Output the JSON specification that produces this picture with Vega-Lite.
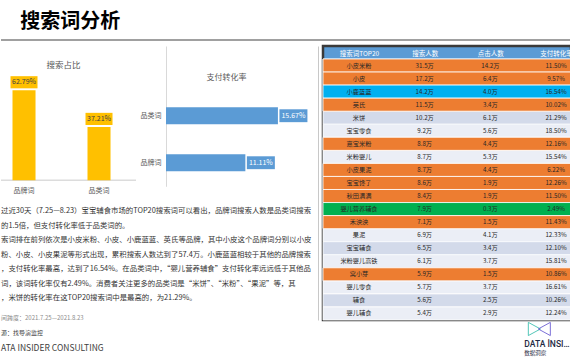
{
  "$schema": "https://vega.github.io/schema/vega-lite/v6.json",
  "padding": {"top": 12, "left": 0, "right": 0, "bottom": 0},
  "background": "white",
  "title": {"text": "搜索词分析", "anchor": "start", "dx": 20, "fontSize": 20, "fontWeight": "bold", "color": "#000000", "offset": 0, "font": "Noto Sans CJK SC"},
  "spacing": 3,
  "vconcat": [
    {
      "width": 570,
      "height": 8,
      "data": {"values": [{}]},
      "mark": {"type": "rule", "color": "#808080", "strokeWidth": 1.5},
      "encoding": {"y": {"datum": 0, "type": "quantitative", "scale": {"domain": [0, 1]}, "axis": null}}
    },
    {
      "spacing": 0,
      "hconcat": [
        {
          "spacing": 0,
          "vconcat": [
            {
              "bounds": "flush",
              "spacing": 30,
              "hconcat": [
                {
                  "width": 135,
                  "height": 157.25,
                  "title": {"text": "搜索占比", "offset": -23.25, "fontSize": 8.5, "fontWeight": "normal", "color": "#595959", "dx": -5},
                  "data": {"values": [
                    {"词类": "品牌词", "搜索占比": 0.6279},
                    {"词类": "品类词", "搜索占比": 0.3721}
                  ]},
                  "encoding": {
                    "x": {"field": "词类", "type": "nominal", "sort": null, "axis": null, "scale": {"paddingInner": 0.693, "paddingOuter": 0.2465, "align": 0.311}}
                  },
                  "layer": [
                    {
                      "mark": {"type": "rule", "color": "#D9D9D9", "strokeWidth": 1},
                      "encoding": {"x": null, "y": {"datum": 0, "type": "quantitative", "scale": {"domain": [-0.1605, 0.9367], "nice": false, "zero": false}, "axis": null}}
                    },
                    {
                      "mark": {"type": "bar", "color": "#FFC000"},
                      "encoding": {"y": {"field": "搜索占比", "type": "quantitative", "axis": null}}
                    },
                    {
                      "mark": {"type": "point", "shape": "M-1,-0.45H1V0.45H-1Z", "size": 729, "filled": true, "opacity": 1, "color": "#FFC000", "yOffset": -8},
                      "encoding": {"y": {"field": "搜索占比", "type": "quantitative", "axis": null}}
                    },
                    {
                      "mark": {"type": "text", "fontSize": 7, "color": "#404040", "dy": -8, "baseline": "middle"},
                      "encoding": {
                        "y": {"field": "搜索占比", "type": "quantitative", "axis": null},
                        "text": {"field": "搜索占比", "type": "quantitative", "format": ".2%"}
                      }
                    },
                    {
                      "mark": {"type": "text", "fontSize": 7, "color": "#595959", "dy": 11, "baseline": "middle"},
                      "encoding": {
                        "y": {"datum": 0, "type": "quantitative", "axis": null},
                        "text": {"field": "词类"}
                      }
                    }
                  ]
                },
                {
                  "width": 125,
                  "height": 140.25,
                  "title": {"text": "支付转化率", "offset": -36.25, "fontSize": 8, "fontWeight": "normal", "color": "#595959", "dx": -2},
                  "data": {"values": [
                    {"词类": "品类词", "支付转化率": 0.1567},
                    {"词类": "品牌词", "支付转化率": 0.1111}
                  ]},
                  "encoding": {
                    "y": {"field": "词类", "type": "nominal", "sort": null, "title": null,
                          "scale": {"paddingInner": 0.638, "paddingOuter": 0.811, "align": 0.803},
                          "axis": {"domainColor": "#D9D9D9", "ticks": false, "labelPadding": 5, "labelFontSize": 7, "labelColor": "#595959"}},
                    "x": {"field": "支付转化率", "type": "quantitative", "axis": null, "scale": {"domain": [0, 0.175], "nice": false}}
                  },
                  "layer": [
                    {"mark": {"type": "bar", "color": "#5B9BD5"}},
                    {"mark": {"type": "point", "shape": "M-1,-0.46H1V0.46H-1Z", "size": 784, "filled": true, "opacity": 1, "color": "#5B9BD5", "xOffset": 15.5}},
                    {"mark": {"type": "text", "fontSize": 7, "color": "#FFFFFF", "dx": 15.5, "baseline": "middle"},
                     "encoding": {"text": {"field": "支付转化率", "type": "quantitative", "format": ".2%"}}}
                  ]
                }
              ]
            },
            {
              "width": 314.5,
              "height": 101.5,
              "data": {"values": [
                {"行": 1, "文本": "过近30天（7.25—8.23）宝宝辅食市场的TOP20搜索词可以看出，品牌词搜索人数是品类词搜索"},
                {"行": 2, "文本": "的1.5倍，但支付转化率低于品类词的。"},
                {"行": 3, "文本": "索词排在前列依次是小皮米粉、小皮、小鹿蓝蓝、英氏等品牌，其中小皮这个品牌词分别以小皮"},
                {"行": 4, "文本": "粉、小皮、小皮果泥等形式出现，累积搜索人数达到了57.4万。小鹿蓝蓝相较于其他的品牌搜索"},
                {"行": 5, "文本": "，支付转化率最高，达到了16.54%。在品类词中，“婴儿营养辅食”支付转化率远远低于其他品"},
                {"行": 6, "文本": "词，该词转化率仅有2.49%。消费者关注更多的品类词是“米饼”、“米粉”、“果泥”等，其"},
                {"行": 7, "文本": "，米饼的转化率在这TOP20搜索词中是最高的，为21.29%。"}
              ]},
              "mark": {"type": "text", "align": "left", "baseline": "middle", "fontSize": 7.4, "color": "#333333"},
              "encoding": {
                "x": {"value": 0},
                "y": {"field": "行", "type": "ordinal", "axis": null, "scale": {"type": "point", "padding": 0.5}},
                "text": {"field": "文本"}
              }
            },
            {
              "width": 314.5,
              "height": 52,
              "layer": [
                {
                  "data": {"values": [{"行": 1, "文本": "间跨度：2021.7.25—2021.8.23"}]},
                  "mark": {"type": "text", "align": "left", "baseline": "middle", "fontSize": 6, "color": "#8C8C8C"},
                  "encoding": {
                    "x": {"value": 0},
                    "y": {"field": "行", "type": "ordinal", "axis": null, "scale": {"type": "point", "domain": [1, 2, 3], "padding": 0.733, "align": 0.568}},
                    "text": {"field": "文本"}
                  }
                },
                {
                  "data": {"values": [{"行": 2, "文本": "源：找导演监控"}]},
                  "mark": {"type": "text", "align": "left", "baseline": "middle", "fontSize": 6, "color": "#404040"},
                  "encoding": {
                    "x": {"value": 0},
                    "y": {"field": "行", "type": "ordinal", "axis": null},
                    "text": {"field": "文本"}
                  }
                },
                {
                  "data": {"values": [{"行": 3, "文本": "ATA INSIDER CONSULTING"}]},
                  "mark": {"type": "text", "align": "left", "baseline": "middle", "fontSize": 8.5, "color": "#404040"},
                  "encoding": {
                    "x": {"value": 0},
                    "y": {"field": "行", "type": "ordinal", "axis": null},
                    "text": {"field": "文本"}
                  }
                }
              ]
            }
          ]
        },
        {
          "width": 248,
          "height": 274,
          "view": {"fill": "#5B9BD5", "stroke": "#3A3A3A", "strokeWidth": 2.5},
          "data": {"values": [
            {"排名": 1, "搜索词": "小皮米粉", "搜索人数": 31.5, "点击人数": 14.2, "支付转化率": 0.1150, "分组": "品牌词"},
            {"排名": 2, "搜索词": "小皮", "搜索人数": 17.2, "点击人数": 6.4, "支付转化率": 0.0957, "分组": "品牌词"},
            {"排名": 3, "搜索词": "小鹿蓝蓝", "搜索人数": 14.2, "点击人数": 4.0, "支付转化率": 0.1654, "分组": "品牌词·转化率最高"},
            {"排名": 4, "搜索词": "英氏", "搜索人数": 11.5, "点击人数": 3.4, "支付转化率": 0.1002, "分组": "品牌词"},
            {"排名": 5, "搜索词": "米饼", "搜索人数": 10.2, "点击人数": 6.1, "支付转化率": 0.2129, "分组": "品类词"},
            {"排名": 6, "搜索词": "宝宝零食", "搜索人数": 9.2, "点击人数": 5.6, "支付转化率": 0.1850, "分组": "品类词"},
            {"排名": 7, "搜索词": "嘉宝米粉", "搜索人数": 8.8, "点击人数": 4.4, "支付转化率": 0.1216, "分组": "品牌词"},
            {"排名": 8, "搜索词": "米粉婴儿", "搜索人数": 8.7, "点击人数": 5.3, "支付转化率": 0.1554, "分组": "品类词"},
            {"排名": 9, "搜索词": "小皮果泥", "搜索人数": 8.7, "点击人数": 4.4, "支付转化率": 0.0622, "分组": "品牌词"},
            {"排名": 10, "搜索词": "宝宝馋了", "搜索人数": 8.6, "点击人数": 1.9, "支付转化率": 0.1226, "分组": "品牌词"},
            {"排名": 11, "搜索词": "秋田满满", "搜索人数": 8.4, "点击人数": 1.9, "支付转化率": 0.1150, "分组": "品牌词"},
            {"排名": 12, "搜索词": "婴儿营养辅食", "搜索人数": 7.9, "点击人数": 0.3, "支付转化率": 0.0249, "分组": "品类词·转化率最低"},
            {"排名": 13, "搜索词": "禾泱泱", "搜索人数": 7.1, "点击人数": 1.5, "支付转化率": 0.1143, "分组": "品牌词"},
            {"排名": 14, "搜索词": "果泥", "搜索人数": 6.9, "点击人数": 4.1, "支付转化率": 0.1233, "分组": "品类词"},
            {"排名": 15, "搜索词": "宝宝辅食", "搜索人数": 6.5, "点击人数": 3.4, "支付转化率": 0.1210, "分组": "品类词"},
            {"排名": 16, "搜索词": "米粉婴儿高铁", "搜索人数": 6.1, "点击人数": 3.7, "支付转化率": 0.1581, "分组": "品类词"},
            {"排名": 17, "搜索词": "窝小芽", "搜索人数": 5.9, "点击人数": 1.5, "支付转化率": 0.1086, "分组": "品牌词"},
            {"排名": 18, "搜索词": "婴儿零食", "搜索人数": 5.7, "点击人数": 3.7, "支付转化率": 0.1661, "分组": "品类词"},
            {"排名": 19, "搜索词": "辅食", "搜索人数": 5.6, "点击人数": 2.5, "支付转化率": 0.1026, "分组": "品类词"},
            {"排名": 20, "搜索词": "婴儿辅食", "搜索人数": 5.4, "点击人数": 2.9, "支付转化率": 0.1224, "分组": "品类词"}
          ]},
          "transform": [
            {"calculate": "format(datum['搜索人数'], '.1f') + '万'", "as": "搜索人数标签"},
            {"calculate": "format(datum['点击人数'], '.1f') + '万'", "as": "点击人数标签"}
          ],
          "encoding": {
            "y": {"field": "排名", "type": "ordinal", "title": null,
                  "scale": {"paddingInner": 0, "paddingOuter": 0.498, "align": 1},
                  "axis": {"orient": "left", "offset": 5, "labels": false, "ticks": false, "domainColor": "#C8C8C8", "domainWidth": 1}}
          },
          "layer": [
            {
              "mark": {"type": "rect", "stroke": "#FFFFFF", "strokeWidth": 0.8},
              "encoding": {"color": {"condition": {"test": "datum['排名'] % 2 === 1", "value": "#D3DAEA"}, "value": "#EBEEF6"}}
            },
            {
              "transform": [{"filter": "datum['分组'] !== '品类词'"}],
              "mark": {"type": "rect", "stroke": "#FFFFFF", "strokeWidth": 0.8},
              "encoding": {"color": {"field": "分组", "type": "nominal", "legend": null,
                "scale": {"domain": ["品牌词", "品牌词·转化率最高", "品类词·转化率最低"], "range": ["#ED7D31", "#00B0F0", "#00B050"]}}}
            },
            {
              "mark": {"type": "text", "fontSize": 6.2, "color": "#262626", "baseline": "middle"},
              "encoding": {
                "x": {"datum": "搜索词TOP20", "type": "nominal",
                      "scale": {"type": "point", "domain": ["搜索词TOP20", "搜索人数", "点击人数", "支付转化率"], "padding": 0.388, "align": 0.706},
                      "axis": {"orient": "top", "title": null, "offset": -6.5, "domain": false, "ticks": false, "labelColor": "#FFFFFF", "labelFontSize": 6.5, "labelPadding": -3.5, "labelAngle": 0, "labelOverlap": false, "labelBound": false}},
                "text": {"field": "搜索词"}
              }
            },
            {
              "mark": {"type": "text", "fontSize": 6.2, "color": "#262626", "baseline": "middle"},
              "encoding": {"x": {"datum": "搜索人数", "type": "nominal"}, "text": {"field": "搜索人数标签"}}
            },
            {
              "mark": {"type": "text", "fontSize": 6.2, "color": "#262626", "baseline": "middle"},
              "encoding": {"x": {"datum": "点击人数", "type": "nominal"}, "text": {"field": "点击人数标签"}}
            },
            {
              "mark": {"type": "text", "fontSize": 6.2, "color": "#262626", "baseline": "middle"},
              "encoding": {"x": {"datum": "支付转化率", "type": "nominal"}, "text": {"field": "支付转化率", "type": "quantitative", "format": ".2%"}}
            },
            {
              "data": {"values": [{"品牌": "DATA İNSIDER", "中文": "数据洞察"}]},
              "layer": [
                {
                  "mark": {"type": "point", "shape": "M-1,-0.6L0.1,0L-1,0.6Z", "size": 484, "filled": false, "strokeWidth": 0.9, "opacity": 1, "color": "#3FBFB0", "xOffset": 49, "yOffset": 15.5},
                  "encoding": {"x": {"datum": "点击人数", "type": "nominal"}, "y": {"datum": 20, "type": "ordinal"}}
                },
                {
                  "mark": {"type": "point", "shape": "M1,-0.6L-0.1,0L1,0.6Z", "size": 484, "filled": false, "strokeWidth": 0.9, "opacity": 1, "color": "#6C5FD3", "xOffset": 49, "yOffset": 15.5},
                  "encoding": {"x": {"datum": "点击人数", "type": "nominal"}, "y": {"datum": 20, "type": "ordinal"}}
                },
                {
                  "mark": {"type": "text", "align": "left", "baseline": "middle", "fontSize": 8.5, "font": "Roboto", "fontWeight": 500, "color": "#1F2A44", "dx": 34, "yOffset": 31, "limit": 47, "ellipsis": ""},
                  "encoding": {"x": {"datum": "点击人数", "type": "nominal"}, "y": {"datum": 20, "type": "ordinal"}, "text": {"field": "品牌"}}
                },
                {
                  "mark": {"type": "text", "align": "left", "baseline": "middle", "fontSize": 5.5, "color": "#1F2A44", "dx": 34, "yOffset": 40},
                  "encoding": {"x": {"datum": "点击人数", "type": "nominal"}, "y": {"datum": 20, "type": "ordinal"}, "text": {"field": "中文"}}
                }
              ]
            }
          ]
        }
      ]
    }
  ],
  "config": {
    "view": {"stroke": null},
    "font": "Noto Sans CJK SC",
    "axis": {"grid": false, "labelFont": "Noto Sans CJK SC"},
    "title": {"font": "Noto Sans CJK SC"}
  }
}
